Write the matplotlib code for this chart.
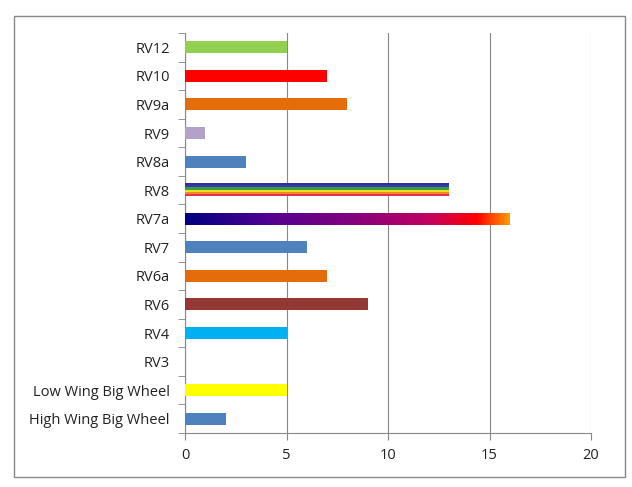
import matplotlib
matplotlib.use("Agg")
import matplotlib.pyplot as plt
import numpy as np
from matplotlib.colors import LinearSegmentedColormap, ListedColormap
from matplotlib.patches import Rectangle

categories = ["High Wing Big Wheel", "Low Wing Big Wheel", "RV3", "RV4", "RV6", "RV6a",
              "RV7", "RV7a", "RV8", "RV8a", "RV9", "RV9a", "RV10", "RV12"]
values = [2, 5, 0, 5, 9, 7, 6, 16, 13, 3, 1, 8, 7, 5]
colors = ["#4f81bd", "#ffff00", "#ffffff", "#00b0f0", "#953735", "#e46c0a",
          "#4f81bd", None, None, "#4f81bd", "#b3a2c7", "#e46c0a", "#ff0000", "#92d050"]
xticks = [0, 5, 10, 15, 20]

gradient_colors = ["#000080", "#500090", "#800080", "#c00060", "#ff0000", "#ff9a00"]
gradient_stops = [0.0, 0.25, 0.5, 0.75, 0.9, 1.0]
rainbow_colors = ["#3b2c9e", "#2b3fb5", "#3c9b3c", "#e8e020", "#f08a24", "#e8304a"]

fig = plt.figure(figsize=(6.32, 4.87), dpi=100)
fig.patch.set_facecolor("white")
fig.patches.append(Rectangle((14/632, 1-477/487), (625-14)/632, (477-16)/487,
                             transform=fig.transFigure, fill=False,
                             edgecolor="#888888", linewidth=1.0))

ax = fig.add_axes([185/632, 1-433/487, (591-185)/632, (433-33)/487])
y = np.arange(len(categories))
bars = ax.barh(y, values, height=0.42, color=[c if c else "none" for c in colors],
               zorder=3)

ax.set_xlim(0, 20)
ax.set_ylim(-0.5, len(categories) - 0.5)

# gradient bar (RV7a) and rainbow bar (RV8)
for i, b in enumerate(bars):
    if colors[i] is None:
        x0, y0, w, h = b.get_x(), b.get_y(), b.get_width(), b.get_height()
        if categories[i] == "RV7a":
            cmap = LinearSegmentedColormap.from_list(
                "g", list(zip(gradient_stops, gradient_colors)))
            img = np.linspace(0, 1, 256).reshape(1, -1)
            ax.imshow(img, cmap=cmap, aspect="auto", extent=(x0, x0 + w, y0, y0 + h),
                      origin="lower", zorder=4, interpolation="bilinear")
        else:
            cmap = ListedColormap(rainbow_colors[::-1])
            img = np.arange(len(rainbow_colors)).reshape(-1, 1)
            ax.imshow(img, cmap=cmap, aspect="auto", extent=(x0, x0 + w, y0, y0 + h),
                      origin="lower", zorder=4, interpolation="nearest")
ax.set_xlim(0, 20)
ax.set_ylim(-0.5, len(categories) - 0.5)

ax.set_xticks(xticks)
ax.set_xticklabels([str(t) for t in xticks])
ax.set_yticks(y)
ax.set_yticklabels(categories)
ax.set_yticks(np.arange(-0.5, len(categories), 1), minor=True)
ax.tick_params(axis="y", which="major", length=0, pad=11)
ax.tick_params(axis="y", which="minor", length=5, color="#888888")
ax.tick_params(axis="x", length=5, color="#888888", pad=6)
ax.grid(axis="x", color="#888888", linewidth=0.8, zorder=0)

for lab in ax.get_xticklabels() + ax.get_yticklabels():
    lab.set_fontfamily("Open Sans")
    lab.set_fontsize(10.5)
    lab.set_color("#222222")

for s in ["top", "right"]:
    ax.spines[s].set_visible(False)
for s in ["left", "bottom"]:
    ax.spines[s].set_color("#888888")
    ax.spines[s].set_linewidth(0.8)

fig.savefig("out.png", dpi=100)
